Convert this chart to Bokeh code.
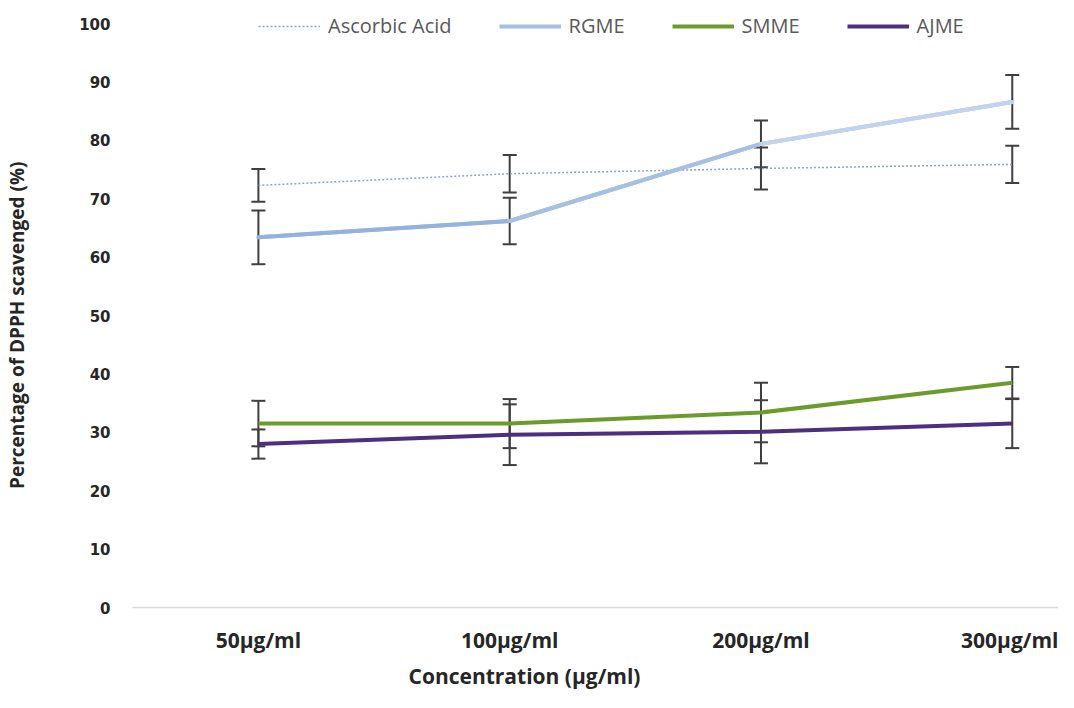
from bokeh.plotting import figure
from bokeh.models import (ColumnDataSource, Range1d, FixedTicker, Whisker, TeeHead,
                          Legend, LegendItem, Title)
from bokeh.embed import file_html
from bokeh.resources import INLINE

categories = ["50µg/ml", "100µg/ml", "200µg/ml", "300µg/ml"]
ascorbic = [72.3, 74.3, 75.2, 75.9]
ascorbic_err = [2.8, 3.2, 3.6, 3.2]
rgme = [63.4, 66.2, 79.4, 86.6]
rgme_err = [4.6, 4.0, 4.0, 4.6]
smme = [31.5, 31.5, 33.4, 38.5]
smme_err = [3.9, 4.2, 5.1, 2.7]
ajme = [28.0, 29.6, 30.1, 31.5]
ajme_err = [2.5, 5.2, 5.4, 4.2]
y_ticks = [0, 10, 20, 30, 40, 50, 60, 70, 80, 90, 100]
rgme_fade = ["#93b2dd", "#a6c0e4", "#c2d4ec"]

xs = list(range(len(categories)))

p = figure(width=1058, height=692, output_backend="svg", toolbar_location=None,
           x_range=Range1d(-0.501, 3.184), y_range=Range1d(0, 102.6),
           min_border_left=132, min_border_right=0, min_border_top=8,
           min_border_bottom=85)
p.outline_line_color = None
p.grid.grid_line_color = None
p.background_fill_color = "white"

# axes
p.xaxis.ticker = FixedTicker(ticks=xs)
p.xaxis.major_label_overrides = {i: c for i, c in enumerate(categories)}
p.xaxis.axis_line_color = "#d9d9d9"
p.xaxis.axis_line_width = 1.5
p.xaxis.major_tick_line_color = None
p.xaxis.minor_tick_line_color = None
p.xaxis.major_label_standoff = 12
p.xaxis.major_label_text_font = "Open Sans"
p.xaxis.major_label_text_font_style = "bold"
p.xaxis.major_label_text_font_size = "21px"
p.xaxis.major_label_text_color = "#262626"

xtitle = Title(text="Concentration  (µg/ml)", align="left", offset=276,
               text_font="Open Sans", text_font_style="bold",
               text_font_size="21px", text_color="#262626", standoff=6)
p.add_layout(xtitle, "below")

p.yaxis.ticker = FixedTicker(ticks=y_ticks)
p.yaxis.axis_line_color = None
p.yaxis.major_tick_line_color = None
p.yaxis.minor_tick_line_color = None
p.yaxis.major_label_standoff = 16
p.yaxis.major_label_text_font = "DejaVu Sans"
p.yaxis.major_label_text_font_style = "bold"
p.yaxis.major_label_text_font_size = "15px"
p.yaxis.major_label_text_color = "#262626"
p.yaxis.axis_label = "Percentage of DPPH scavenged  (%)" + "\u00a0" * 6
p.yaxis.axis_label_text_font = "Open Sans"
p.yaxis.axis_label_text_font_style = "bold"
p.yaxis.axis_label_text_font_size = "19px"
p.yaxis.axis_label_text_color = "#262626"
p.yaxis.axis_label_standoff = 46

series = [
    ("Ascorbic Acid", ascorbic, ascorbic_err, "#8e9fd8", 1.5, "2 2"),
    ("RGME", rgme, rgme_err, "#a6c0e4", 4, "solid"),
    ("SMME", smme, smme_err, "#6b9b2c", 4, "solid"),
    ("AJME", ajme, ajme_err, "#4d2f7f", 4, "solid"),
]

items = []
sources = []
for name, vals, errs, color, w, dash in series:
    src = ColumnDataSource(dict(x=xs, y=vals,
                                upper=[v + e for v, e in zip(vals, errs)],
                                lower=[v - e for v, e in zip(vals, errs)]))
    r = p.line("x", "y", source=src, line_color=color, line_width=w, line_dash=dash)
    items.append(LegendItem(label=name, renderers=[r]))
    sources.append(src)
    if name == "RGME":
        seg = ColumnDataSource(dict(x0=xs[:-1], y0=vals[:-1], x1=xs[1:], y1=vals[1:],
                                    c=rgme_fade))
        p.segment("x0", "y0", "x1", "y1", source=seg, line_color="c",
                  line_width=4, line_cap="round")

for src in sources:
    wk = Whisker(source=src, base="x", upper="upper", lower="lower",
                 line_color="#3f3f3f", line_width=2,
                 upper_head=TeeHead(size=14, line_color="#3f3f3f", line_width=2),
                 lower_head=TeeHead(size=14, line_color="#3f3f3f", line_width=2))
    p.add_layout(wk)

legend = Legend(items=items, orientation="horizontal", location=(126, 568),
                background_fill_alpha=0, border_line_color=None,
                label_text_font="Open Sans", label_text_font_size="20px",
                label_text_color="#595959", glyph_width=62, glyph_height=16,
                label_standoff=8, spacing=47, padding=0, margin=0)
p.add_layout(legend)

open("out.html", "w").write(file_html(p, INLINE))
